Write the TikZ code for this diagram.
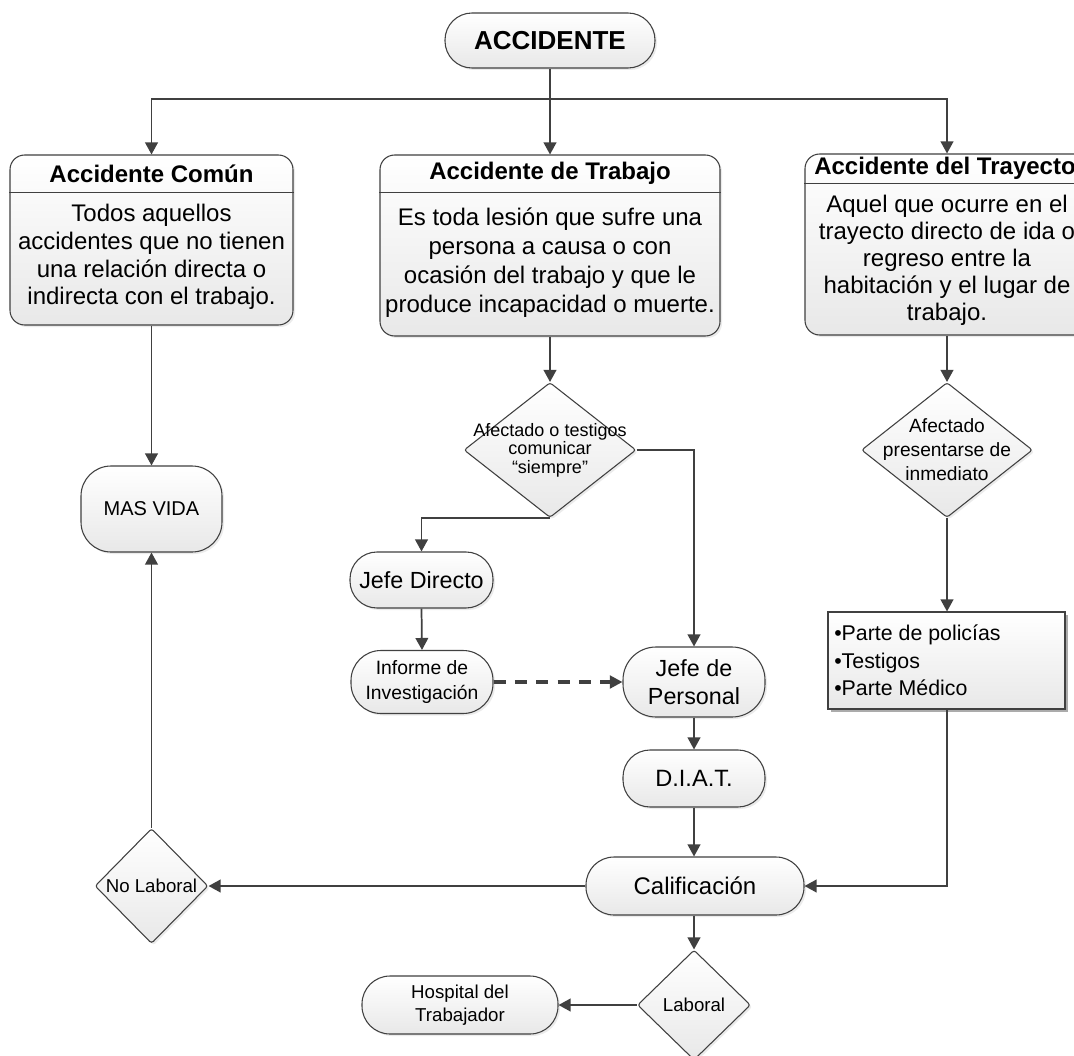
\documentclass[tikz,border=0pt]{standalone}
\usepackage{fontspec}
\setmainfont{Liberation Sans}
\usetikzlibrary{shapes.geometric,arrows.meta,shadows}
\definecolor{ln}{HTML}{404040}
\tikzset{
  sz/.style 2 args={minimum width=#1*0.75pt, minimum height=#2*0.75pt},
  box/.style={draw=ln, line width=0.8pt, top color=white, bottom color=black!9,
    drop shadow={shadow xshift=1.5pt, shadow yshift=-1.5pt, fill=black!15},
    inner sep=0pt, align=center},
  term/.style={box, rounded corners=#1*0.75pt},
  dia/.style={box, diamond, rounded corners=2pt},
  sepline/.style={draw=ln, line width=0.7pt},
  arr/.style={draw=ln, line width=1.3pt, -{Triangle[length=9pt,width=9.5pt]}},
  plain/.style={draw=ln, line width=1.3pt},
  dasharr/.style={draw=ln, line width=2.3pt, dash pattern=on 9pt off 7pt, -{Triangle[length=9.5pt,width=9.5pt]}},
  fs/.style 2 args={font=\fontsize{#1}{#2}\selectfont, align=center, inner sep=0pt},
  fb/.style 2 args={font=\fontsize{#1}{#2}\selectfont\bfseries, align=center, inner sep=0pt}
}
\begin{document}
\begin{tikzpicture}[x=0.75pt,y=-0.75pt]
\useasboundingbox (0,0) rectangle (1074,1056);
\clip (0,0) rectangle (1074,1056);
\fill[white] (0,0) rectangle (1074,1056);

% top
\node[term=27, sz={210}{55}, fb={19.5}{23}] (acc) at (550,40.5) {ACCIDENTE};

% three category boxes
\node[box, rounded corners=11pt, sz={283}{170}] (c1) at (151.5,240) {};
\draw[sepline] (c1.west |- 0,192) -- (c1.east |- 0,192);
\node[fb={18}{21}] (c1h) at (151.5,173.5) {Accidente Común};
\node[fs={18}{20.8}] (c1b) at (151.5,257) {Todos aquellos\\accidentes que no tienen\\una relación directa o\\indirecta con el trabajo.};

\node[box, rounded corners=11pt, sz={340}{181}] (c2) at (550,245.5) {};
\draw[sepline] (c2.west |- 0,192) -- (c2.east |- 0,192);
\node[fb={18}{21}] (c2h) at (550,173.5) {Accidente de Trabajo};
\node[fs={18}{21.8}] (c2b) at (550,263) {Es toda lesión que sufre una\\persona a causa o con\\ocasión del trabajo y que le\\produce incapacidad o muerte.};

\node[box, rounded corners=11pt, sz={284}{181}] (c3) at (947,244.5) {};
\draw[sepline] (c3.west |- 0,183) -- (c3.east |- 0,183);
\node[fb={18}{21}] (c3h) at (945,168.5) {Accidente del Trayecto};
\node[fs={18}{20.3}] (c3b) at (947,260) {Aquel que ocurre en el\\trayecto directo de ida o\\regreso entre la\\habitación y el lugar de\\trabajo.};

% left column
\node[term=30, sz={141}{86}, fs={15}{18}] (mv) at (151.5,509) {MAS VIDA};
\node[dia, sz={113}{115}] (nl) at (151.5,886) {};
\node[fs={14}{17}] (nlt) at (151.5,886) {No Laboral};

% middle column
\node[dia, sz={172}{135}] (d1) at (550,450) {};
\node[fs={13.5}{13.8}] (d1t) at (550,450) {Afectado o testigos\\comunicar\\“siempre”};
\node[term=27, sz={143}{56}, fs={17.5}{21}] (jd) at (421.5,580) {Jefe Directo};
\node[term=30, sz={142}{63}, fs={14.5}{18.75}] (inf) at (422,682) {Informe de\\Investigación};
\node[term=33, sz={142}{70}, fs={17.5}{21}] (jp) at (694,682) {Jefe de\\Personal};
\node[term=27, sz={142}{57}, fs={17.7}{21}] (diat) at (694,778.5) {D.I.A.T.};
\node[term=28, sz={218}{58}, fs={18}{21}] (cal) at (695,886) {Calificación};
\node[dia, sz={113}{110}] (lab) at (694,1005) {};
\node[fs={14}{17}] (labt) at (694,1005) {Laboral};
\node[term=28, sz={196}{58}, fs={14}{17.5}] (hosp) at (460,1005) {Hospital del\\Trabajador};

% right column
\node[dia, sz={171}{135}] (d2) at (947,450) {};
\node[fs={14.4}{18}] (d2t) at (947,450) {Afectado\\presentarse de\\inmediato};
\node[draw=ln, line width=0.8pt, top color=white, bottom color=black!9,
  drop shadow={shadow xshift=2.5pt, shadow yshift=-2.5pt, fill=black!65},
  sz={237}{97}, inner sep=0pt] (bul) at (946.5,660.5) {};
\node[anchor=west, font=\fontsize{16}{20.6}\selectfont, align=left, inner sep=0pt] (bult) at (834,660.5) {•Parte de policías\\•Testigos\\•Parte Médico};

% connectors
\coordinate (br) at (550,99);
\draw[plain] (acc.south) -- (br);
\draw[arr] (br) -| (c1.north);
\draw[arr] (br) -- (c2.north);
\draw[arr] (br) -| (c3.north);

\draw[arr] (c1.south) -- (mv.north);
\draw[arr] (nl.north) -- (mv.south);

\draw[arr] (c2.south) -- (d1.north);
\draw[arr] (d1.south) -| (jd.north);
\draw[arr] (d1.east) -| (jp.north);
\draw[arr] (jd.south) -- (inf.north);
\draw[dasharr] (inf.east) -- (jp.west);
\draw[arr] (jp.south) -- (diat.north);
\draw[arr] (diat.south) -- (diat.south |- cal.north);
\draw[arr] (cal.west) -- (nl.east);
\draw[arr] (cal.south -| diat.south) -- (lab.north);
\draw[arr] (lab.west) -- (hosp.east);

\draw[arr] (c3.south) -- (d2.north);
\draw[arr] (d2.south) -- (d2.south |- bul.north);
\draw[arr] (bul.south -| d2.south) |- (cal.east);
\end{tikzpicture}
\end{document}
